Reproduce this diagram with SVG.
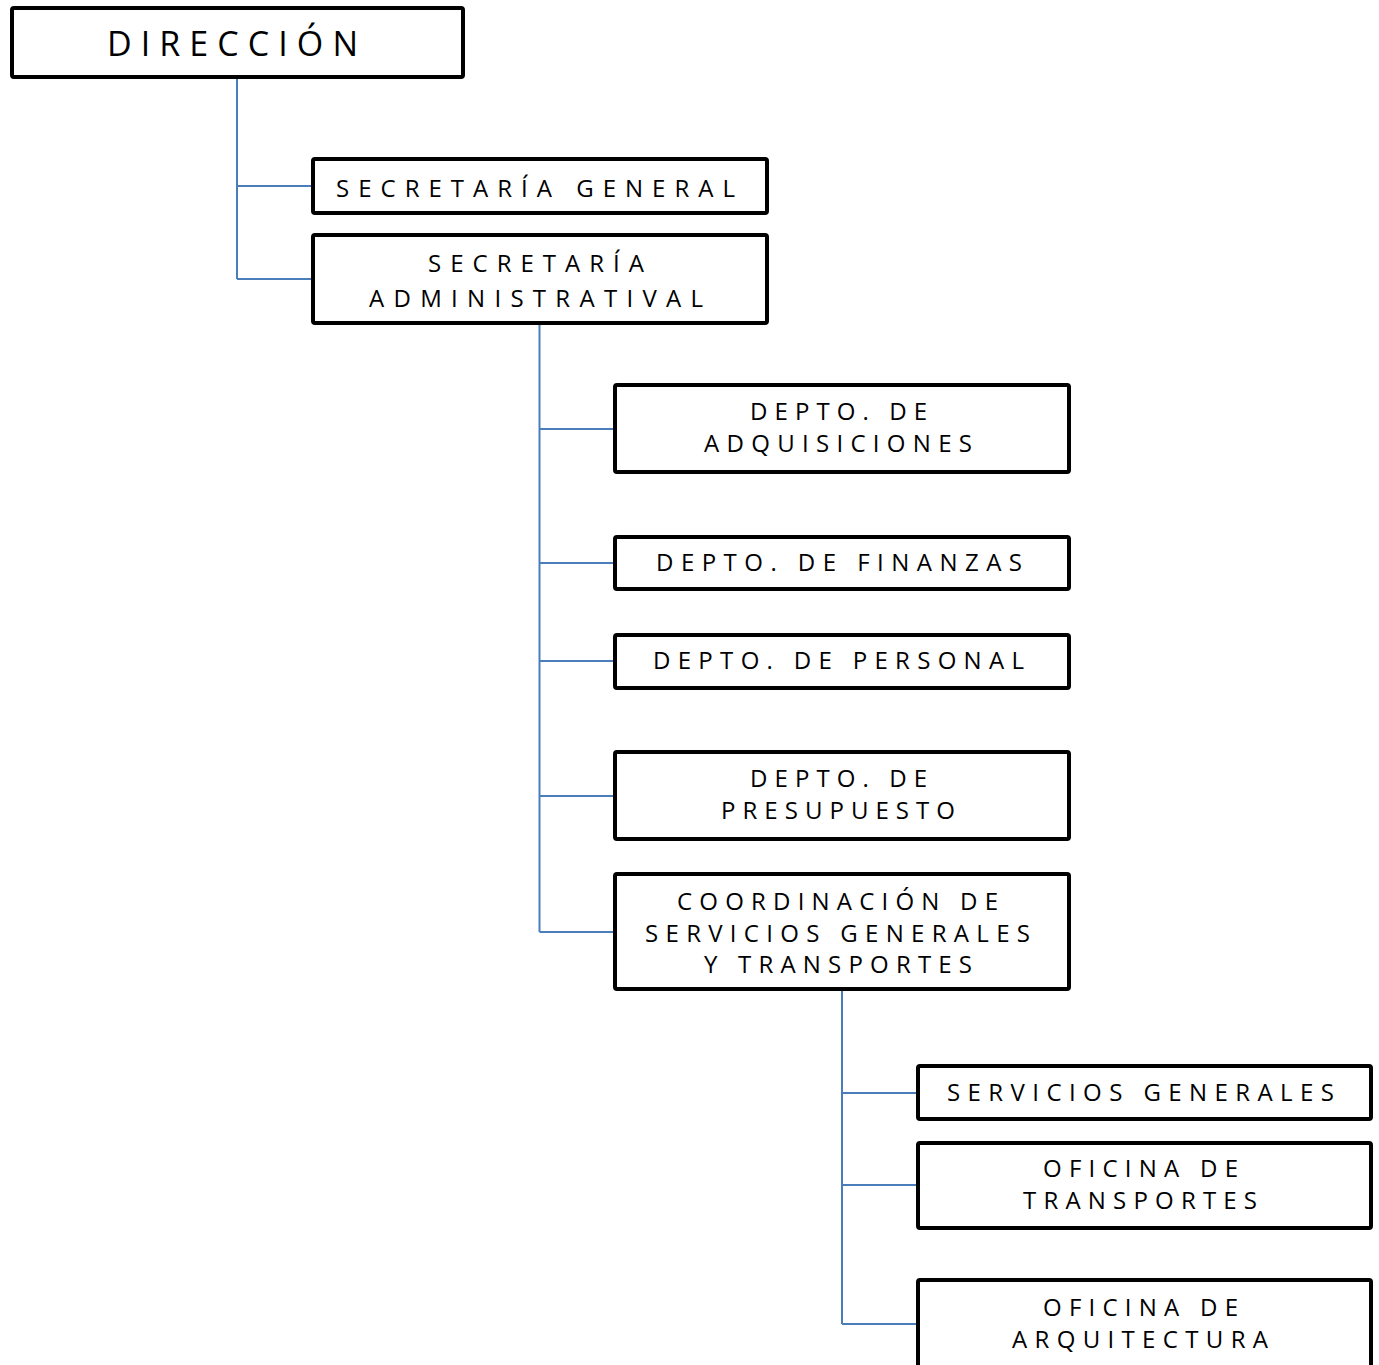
<svg xmlns="http://www.w3.org/2000/svg" width="1379" height="1365" viewBox="0 0 1379 1365">
<style>
.box{fill:#fff;stroke:#000;stroke-width:4;}
.t{font-family:"Open Sans","Liberation Sans",sans-serif;font-size:24px;fill:#000;}
.big{font-size:34px;}
.c{fill:none;stroke:#4A7EBB;stroke-width:2;}
</style>
<rect width="1379" height="1365" fill="#fff"/>
<g id="connectors">
<path class="c" d="M237 79V279M237 186H313M237 279H313"/>
<path class="c" d="M539.5 325V932M539.5 429H615M539.5 563H615M539.5 661H615M539.5 796H615M539.5 932H615"/>
<path class="c" d="M842 991V1324M842 1093H918M842 1185H918M842 1324H918"/>
</g>
<g id="direccion"><rect class="box" x="12" y="8" width="451" height="69" rx="2"/><text class="t big" x="107" y="56" textLength="251" lengthAdjust="spacing">DIRECCIÓN</text></g>
<g id="sec-general"><rect class="box" x="313" y="159" width="454" height="54" rx="2"/><text class="t" x="336" y="197" textLength="399" lengthAdjust="spacing">SECRETARÍA GENERAL</text></g>
<g id="sec-admin"><rect class="box" x="313" y="235" width="454" height="88" rx="2"/><text class="t" x="428" y="272" textLength="216" lengthAdjust="spacing">SECRETARÍA</text><text class="t" x="369" y="307" textLength="334" lengthAdjust="spacing">ADMINISTRATIVAL</text></g>
<g id="adquisiciones"><rect class="box" x="615" y="385" width="454" height="87" rx="2"/><text class="t" x="750" y="420" textLength="177" lengthAdjust="spacing">DEPTO. DE</text><text class="t" x="704" y="452" textLength="268" lengthAdjust="spacing">ADQUISICIONES</text></g>
<g id="finanzas"><rect class="box" x="615" y="537" width="454" height="52" rx="2"/><text class="t" x="656" y="571" textLength="366" lengthAdjust="spacing">DEPTO. DE FINANZAS</text></g>
<g id="personal"><rect class="box" x="615" y="635" width="454" height="53" rx="2"/><text class="t" x="653" y="669" textLength="371" lengthAdjust="spacing">DEPTO. DE PERSONAL</text></g>
<g id="presupuesto"><rect class="box" x="615" y="752" width="454" height="87" rx="2"/><text class="t" x="750" y="787" textLength="177" lengthAdjust="spacing">DEPTO. DE</text><text class="t" x="721" y="819" textLength="234" lengthAdjust="spacing">PRESUPUESTO</text></g>
<g id="coordinacion"><rect class="box" x="615" y="874" width="454" height="115" rx="2"/><text class="t" x="677" y="910" textLength="321" lengthAdjust="spacing">COORDINACIÓN DE</text><text class="t" x="645" y="942" textLength="385" lengthAdjust="spacing">SERVICIOS GENERALES</text><text class="t" x="704" y="973" textLength="268" lengthAdjust="spacing">Y TRANSPORTES</text></g>
<g id="servicios"><rect class="box" x="918" y="1066" width="453" height="53" rx="2"/><text class="t" x="947" y="1101" textLength="387" lengthAdjust="spacing">SERVICIOS GENERALES</text></g>
<g id="transportes"><rect class="box" x="918" y="1143" width="453" height="85" rx="2"/><text class="t" x="1043" y="1177" textLength="195" lengthAdjust="spacing">OFICINA DE</text><text class="t" x="1023" y="1209" textLength="234" lengthAdjust="spacing">TRANSPORTES</text></g>
<g id="arquitectura"><rect class="box" x="918" y="1280" width="453" height="110" rx="2"/><text class="t" x="1043" y="1316" textLength="195" lengthAdjust="spacing">OFICINA DE</text><text class="t" x="1012" y="1348" textLength="256" lengthAdjust="spacing">ARQUITECTURA</text></g>
</svg>
